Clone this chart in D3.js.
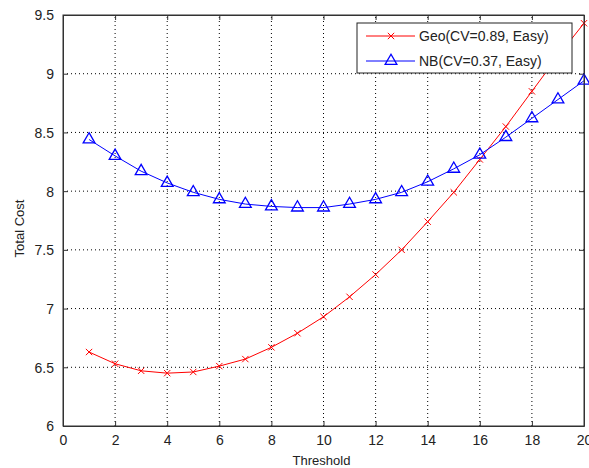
<!DOCTYPE html>
<html>
<head>
<meta charset="utf-8">
<script src="https://cdn.jsdelivr.net/npm/d3@7"></script>
<style>
  body { margin: 0; background: #fff; }
  text { font-family: "Liberation Sans", Arial, sans-serif; }
</style>
</head>
<body>
<div id="chart"></div>
<script>
// data
let thresholds = [1, 2, 3, 4, 5, 6, 7, 8, 9, 10, 11, 12, 13, 14, 15, 16, 17, 18, 19, 20];
let geoCost = [6.63, 6.53, 6.47, 6.45, 6.46, 6.51, 6.57, 6.67, 6.79, 6.93, 7.10, 7.29, 7.50, 7.74, 7.99, 8.27, 8.55, 8.85, 9.15, 9.43];
let nbCost = [8.44, 8.30, 8.17, 8.07, 7.99, 7.93, 7.89, 7.87, 7.86, 7.86, 7.89, 7.93, 7.99, 8.08, 8.19, 8.31, 8.46, 8.62, 8.78, 8.94];
let xTicks = [0, 2, 4, 6, 8, 10, 12, 14, 16, 18, 20];
let yTicks = [6, 6.5, 7, 7.5, 8, 8.5, 9, 9.5];
let seriesNames = ["Geo(CV=0.89, Easy)", "NB(CV=0.37, Easy)"];

let width = 589, height = 468;
let margin = { left: 63, top: 15, right: 5, bottom: 42 };

const svg = d3.select("#chart")
  .append("svg")
  .attr("width", width)
  .attr("height", height);

let x = d3.scaleLinear().domain([0, 20]).range([margin.left, width - margin.right]);
let y = d3.scaleLinear().domain([6, 9.5]).range([height - margin.bottom, margin.top]);

let x0 = x.range()[0], x1 = x.range()[1];
let y0 = y.range()[0], y1 = y.range()[1];

// grid (dotted)
svg.append("g")
  .selectAll("line")
  .data(xTicks.slice(1, -1))
  .join("line")
  .attr("x1", d => x(d)).attr("x2", d => x(d))
  .attr("y1", y0).attr("y2", y1)
  .attr("stroke", "#000")
  .attr("stroke-dasharray", "1,3");

svg.append("g")
  .selectAll("line")
  .data(yTicks.slice(1, -1))
  .join("line")
  .attr("x1", x0).attr("x2", x1)
  .attr("y1", d => y(d)).attr("y2", d => y(d))
  .attr("stroke", "#000")
  .attr("stroke-dasharray", "1,3");

// axes (ticks pointing inward)
let xAxis = svg.append("g")
  .attr("transform", `translate(0,${y0})`)
  .call(d3.axisBottom(x).tickValues(xTicks).tickSizeInner(-5).tickSizeOuter(0).tickPadding(9));
let xAxisTop = svg.append("g")
  .attr("transform", `translate(0,${y1})`)
  .call(d3.axisTop(x).tickValues(xTicks).tickSizeInner(-5).tickSizeOuter(0).tickFormat(""));
let yAxis = svg.append("g")
  .attr("transform", `translate(${x0},0)`)
  .call(d3.axisLeft(y).tickValues(yTicks).tickSizeInner(-5).tickSizeOuter(0).tickPadding(9)
    .tickFormat(d => String(d)));
let yAxisRight = svg.append("g")
  .attr("transform", `translate(${x1},0)`)
  .call(d3.axisRight(y).tickValues(yTicks).tickSizeInner(-5).tickSizeOuter(0).tickFormat(""));

[xAxis, xAxisTop, yAxis, yAxisRight].forEach(a => {
  a.select(".domain").attr("stroke", "#333");
  a.selectAll(".tick line").attr("stroke", "#333");
  a.selectAll("text").style("font-size", "14px").attr("fill", "#222")
    .style("font-family", "'Liberation Sans', Arial, sans-serif");
});
yAxis.selectAll("text").attr("dy", "0.35em");

// axis labels
svg.append("text")
  .attr("x", (x0 + x1) / 2 - 2)
  .attr("y", 465)
  .attr("text-anchor", "middle")
  .style("font-size", "13px")
  .attr("fill", "#222")
  .text("Threshold");

svg.append("text")
  .attr("transform", `translate(24,${(y0 + y1) / 2 + 8}) rotate(-90)`)
  .attr("text-anchor", "middle")
  .style("font-size", "13px")
  .attr("fill", "#222")
  .text("Total Cost");

let line = d3.line()
  .x(d => x(d[0]))
  .y(d => y(d[1]));

let geoPts = thresholds.map((t, i) => [t, geoCost[i]]);
let nbPts = thresholds.map((t, i) => [t, nbCost[i]]);

// Geo series (red, x markers)
svg.append("path")
  .datum(geoPts)
  .attr("d", line)
  .attr("fill", "none")
  .attr("stroke", "#ff0000")
  .attr("stroke-width", 1);

let xMark = d3.symbol().type(d3.symbolTimes).size(28);
svg.append("g")
  .selectAll("path")
  .data(geoPts)
  .join("path")
  .attr("transform", d => `translate(${x(d[0])},${y(d[1])})`)
  .attr("d", xMark)
  .attr("fill", "none")
  .attr("stroke", "#ff0000")
  .attr("stroke-width", 1);

// NB series (blue, triangle markers)
svg.append("path")
  .datum(nbPts)
  .attr("d", line)
  .attr("fill", "none")
  .attr("stroke", "#0000ff")
  .attr("stroke-width", 1);

let triMark = d3.symbol().type(d3.symbolTriangle).size(60);
svg.append("g")
  .selectAll("path")
  .data(nbPts)
  .join("path")
  .attr("transform", d => `translate(${x(d[0])},${y(d[1])})`)
  .attr("d", triMark)
  .attr("fill", "none")
  .attr("stroke", "#0000ff")
  .attr("stroke-width", 1.3);

// plot frame
svg.append("rect")
  .attr("x", x0).attr("y", y1)
  .attr("width", x1 - x0).attr("height", y0 - y1)
  .attr("fill", "none")
  .attr("stroke", "#333");

// legend
let lg = svg.append("g").attr("transform", "translate(357,23)");
lg.append("rect")
  .attr("width", 215).attr("height", 50)
  .attr("fill", "#fff")
  .attr("stroke", "#222");

let legendColors = ["#ff0000", "#0000ff"];
let legendMarks = [xMark, triMark];
seriesNames.forEach((name, i) => {
  let cy = 13 + i * 25;
  lg.append("line")
    .attr("x1", 9).attr("x2", 58)
    .attr("y1", cy).attr("y2", cy)
    .attr("stroke", legendColors[i]);
  lg.append("path")
    .attr("transform", `translate(34,${cy})`)
    .attr("d", legendMarks[i])
    .attr("fill", "none")
    .attr("stroke", legendColors[i])
    .attr("stroke-width", i === 1 ? 1.3 : 1);
  lg.append("text")
    .attr("x", 62).attr("y", cy + 5)
    .style("font-size", "14px")
    .attr("fill", "#222")
    .text(name);
});
</script>
</body>
</html>
